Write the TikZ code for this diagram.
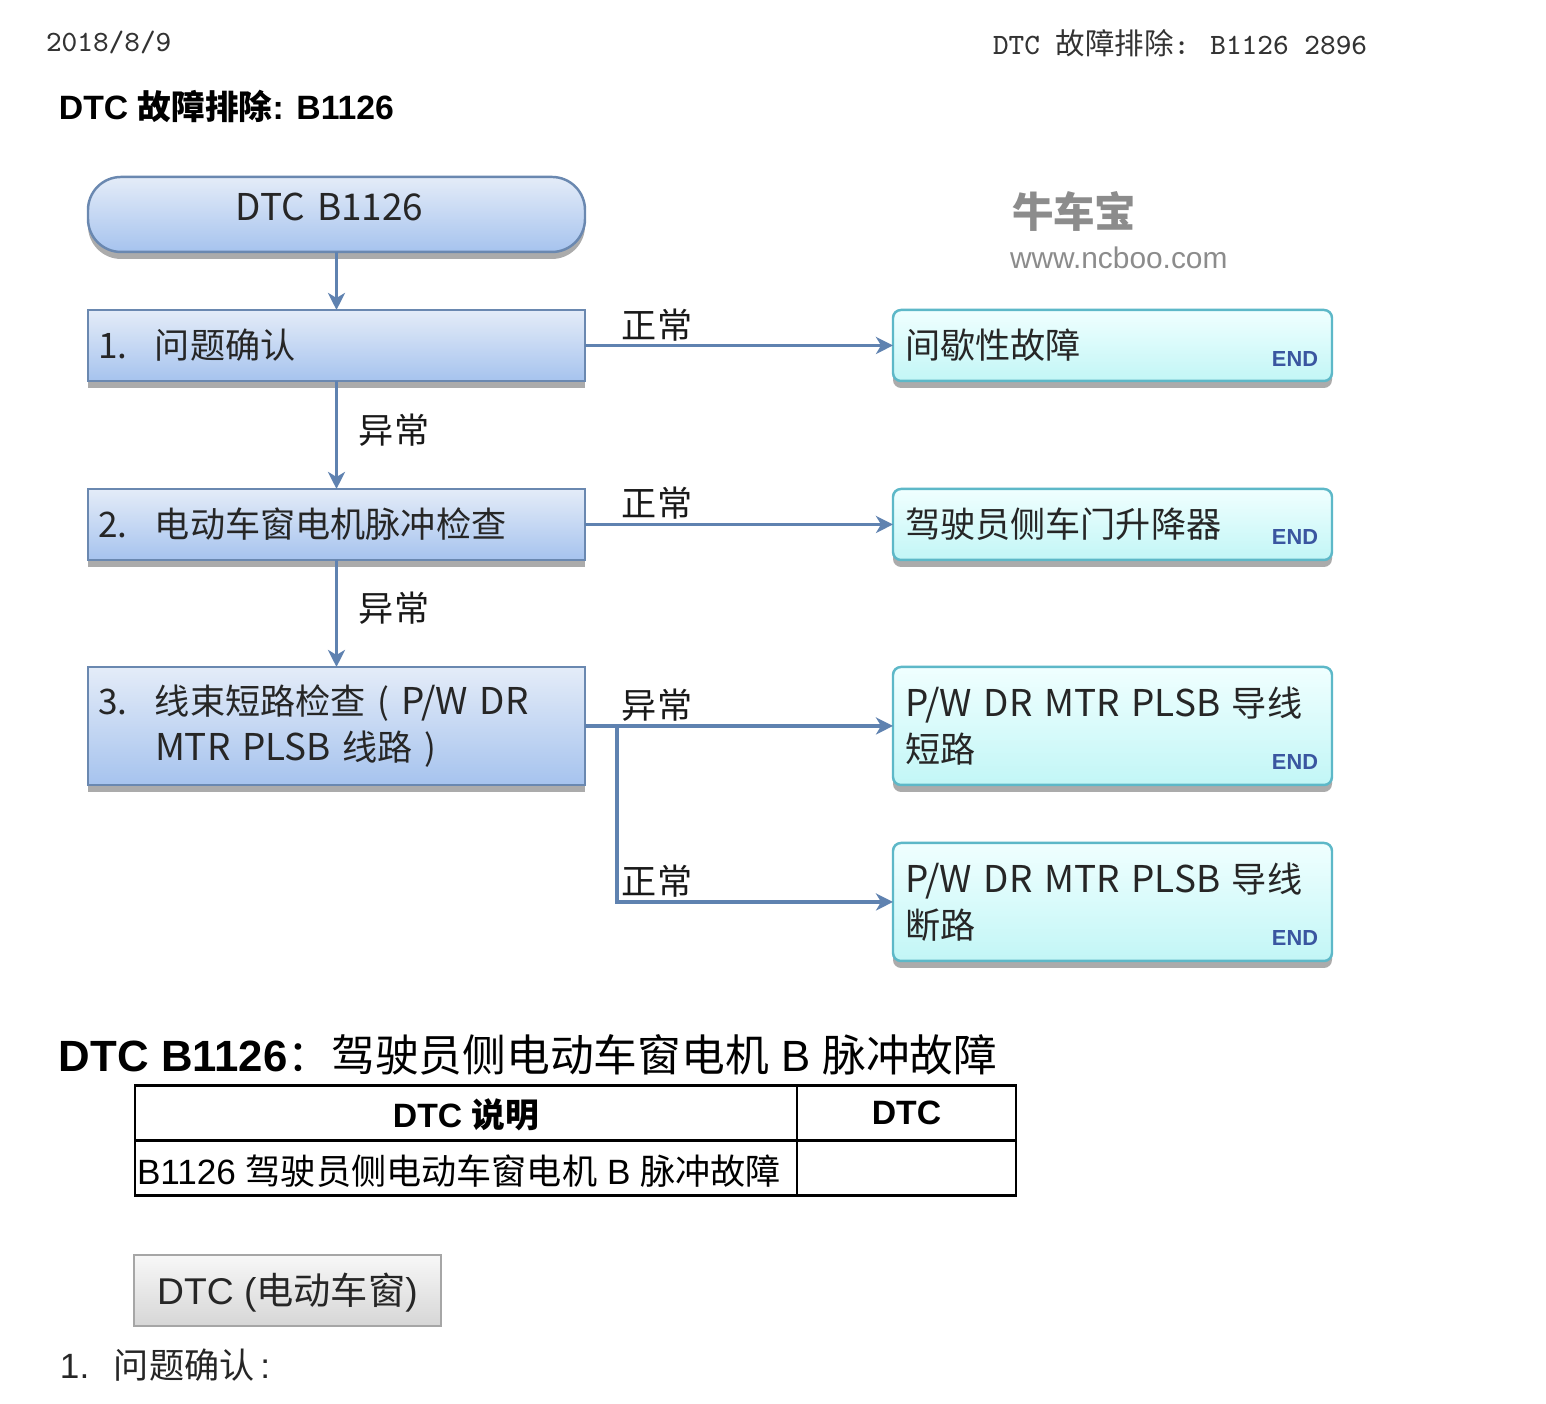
\documentclass[tikz,border=0pt]{standalone}
\usepackage{fontspec}
\setmainfont{Liberation Sans}
\newfontfamily\cjk{Noto Sans CJK SC}
\usetikzlibrary{shadows,arrows.meta}
\definecolor{linkblue}{HTML}{5F82B0}
\definecolor{boxline}{HTML}{6A88B0}
\definecolor{boxtop}{HTML}{E4ECF8}
\definecolor{boxbot}{HTML}{A6C3EE}
\definecolor{endline}{HTML}{5DB8C8}
\definecolor{endtop}{HTML}{F0FFFF}
\definecolor{endbot}{HTML}{C2F6F6}
\definecolor{endtext}{HTML}{3A56A0}
\definecolor{markgray}{HTML}{8C8C8C}
\newcommand{\zh}[1]{{\cjk #1}}
\newcommand{\wide}[1]{{\fontsize{10.5}{13.2}\selectfont #1}}
\newcommand{\stepnum}[1]{\makebox[0.57cm][l]{#1}}
\begin{document}
\begin{tikzpicture}
\tikzset{ >={Stealth[length=1.7mm, width=1.7mm, inset=0.5mm]}, inner sep=0pt, outer sep=0pt,
  flowtext/.style={font=\cjk\fontsize{10}{13.2}\selectfont, text=black!85},
  linktext/.style={flowtext, text=black!90},
  flowbox/.style={flowtext, draw=boxline, line width=0.7pt, top color=boxtop, bottom color=boxbot,
    minimum width=4.97cm, text width=4.77cm, align=left, inner xsep=0.1cm,
    drop shadow={shadow xshift=0cm, shadow yshift=-0.07cm, opacity=0.55, fill=black!60}},
  startbox/.style={flowbox, rounded corners=0.33cm, align=center, minimum height=0.75cm,
    font=\cjk\fontsize{10.5}{13.2}\selectfont},
  endbox/.style={flowbox, draw=endline, top color=endtop, bottom color=endbot, rounded corners=0.08cm,
    minimum width=4.39cm, text width=4.15cm, inner xsep=0.12cm},
  endtag/.style={font=\bfseries\fontsize{6.2}{7}\selectfont, text=endtext, anchor=east},
  link/.style={->, linkblue, line width=1pt},
  tablerule/.style={black, line width=0.85pt},
}

% page
\fill [white] (0,0) rectangle (15.46,14.04);

\node (date) [anchor=west, font=\ttfamily\fontsize{8.4}{10}\selectfont, text=black!80] at (0.46,13.61) {2018/8/9};
\node (head) [anchor=west, font=\ttfamily\fontsize{8.4}{10}\selectfont, text=black!80] at (9.93,13.61) {DTC \zh{故障排除}: B1126 2896};
\node (title) [anchor=west, font=\bfseries\fontsize{9.6}{11}\selectfont] at (0.59,12.98) {DTC \zh{故障排除}: B1126};

\node (mark) [anchor=west, font=\cjk\bfseries\fontsize{11.8}{13}\selectfont, text=markgray] at (10.12,11.92) {牛车宝};
\node (site) [anchor=west, font=\fontsize{8.5}{10}\selectfont, text=markgray] at (10.10,11.46) {www.ncboo.com};

% flow boxes
\node [startbox] (S) at (3.365,11.895) {\raisebox{-0.065cm}[0pt][0pt]{\hspace*{-0.14cm}DTC B1126}};
\node [flowbox, minimum height=0.71cm] (A) at (3.365,10.585) {\stepnum{1.}问题确认};
\node [flowbox, minimum height=0.71cm] (B) at (3.365,8.795) {\stepnum{2.}电动车窗电机脉冲检查};
\node [flowbox, minimum height=1.18cm] (C) at (3.365,6.78) {\stepnum{3.}线束短路检查 ( \wide{P/W DR}\\\hspace*{0.57cm}\wide{MTR PLSB} 线路 )};

\node [endbox, minimum height=0.71cm] (E1) at (11.125,10.585) {间歇性故障};
\node [endbox, minimum height=0.71cm] (E2) at (11.125,8.795) {驾驶员侧车门升降器};
\node [endbox, minimum height=1.18cm] (E3) at (11.125,6.78) {\wide{P/W DR MTR PLSB} 导线\\短路};
\node [endbox, minimum height=1.18cm] (E4) at (11.125,5.02) {\wide{P/W DR MTR PLSB} 导线\\断路};

\node [endtag] (T1) at (13.18,10.45) {END};
\node [endtag] (T2) at (13.18,8.67) {END};
\node [endtag] (T3) at (13.18,6.42) {END};
\node [endtag] (T4) at (13.18,4.66) {END};

\coordinate (J) at (6.17,6.78);

\draw [link] (S) -- (A);
\draw [link] (A) -- (B);
\draw [link] (B) -- (C);
\draw [link] (A) -- (E1);
\draw [link] (B) -- (E2);
\draw [link] (C) -- (E3);
\draw [link] (J) |- (E4);

\node [linktext] (L1) at (6.57,10.79) {正常};
\node [linktext] (L2) at (3.94,9.74) {异常};
\node [linktext] (L3) at (6.57,9.01) {正常};
\node [linktext] (L4) at (3.94,7.96) {异常};
\node [linktext] (L5) at (6.57,6.99) {异常};
\node [linktext] (L6) at (6.57,5.23) {正常};

% table
\node (sub) [anchor=west, font=\fontsize{12.45}{14}\selectfont] at (0.59,3.49) {\textbf{DTC B1126}\zh{：}\zh{驾驶员侧电动车窗电机} B \zh{脉冲故障}};

\draw [tablerule] (1.35,2.08) rectangle (10.16,3.18);
\draw [tablerule] (7.97,2.08) -- (7.97,3.18);
\draw [tablerule] (1.35,2.63) -- (10.16,2.63);

\node (h1) [font=\bfseries\fontsize{9.6}{11}\selectfont] at (4.66,2.89) {DTC \zh{说明}};
\node (h2) [font=\bfseries\fontsize{9.6}{11}\selectfont] at (9.065,2.91) {DTC};
\node (c1) [anchor=west, font=\fontsize{10}{12}\selectfont] at (1.37,2.33) {B1126 \zh{驾驶员侧电动车窗电机} B \zh{脉冲故障}};

\node [draw=black!35, line width=0.7pt, top color=black!3, bottom color=black!16,
       minimum width=3.07cm, minimum height=0.71cm, font=\fontsize{10.6}{12}\selectfont, text=black!85] (btn) at (2.875,1.135) {\raisebox{-0.145cm}[0pt][0pt]{DTC (\zh{电动车窗})}};

\node (q1) [anchor=west, font=\fontsize{10}{12}\selectfont, text=black!85] at (0.60,0.39) {\makebox[0.54cm][l]{1.}\zh{问题确认}\,:};
\end{tikzpicture}
\end{document}
